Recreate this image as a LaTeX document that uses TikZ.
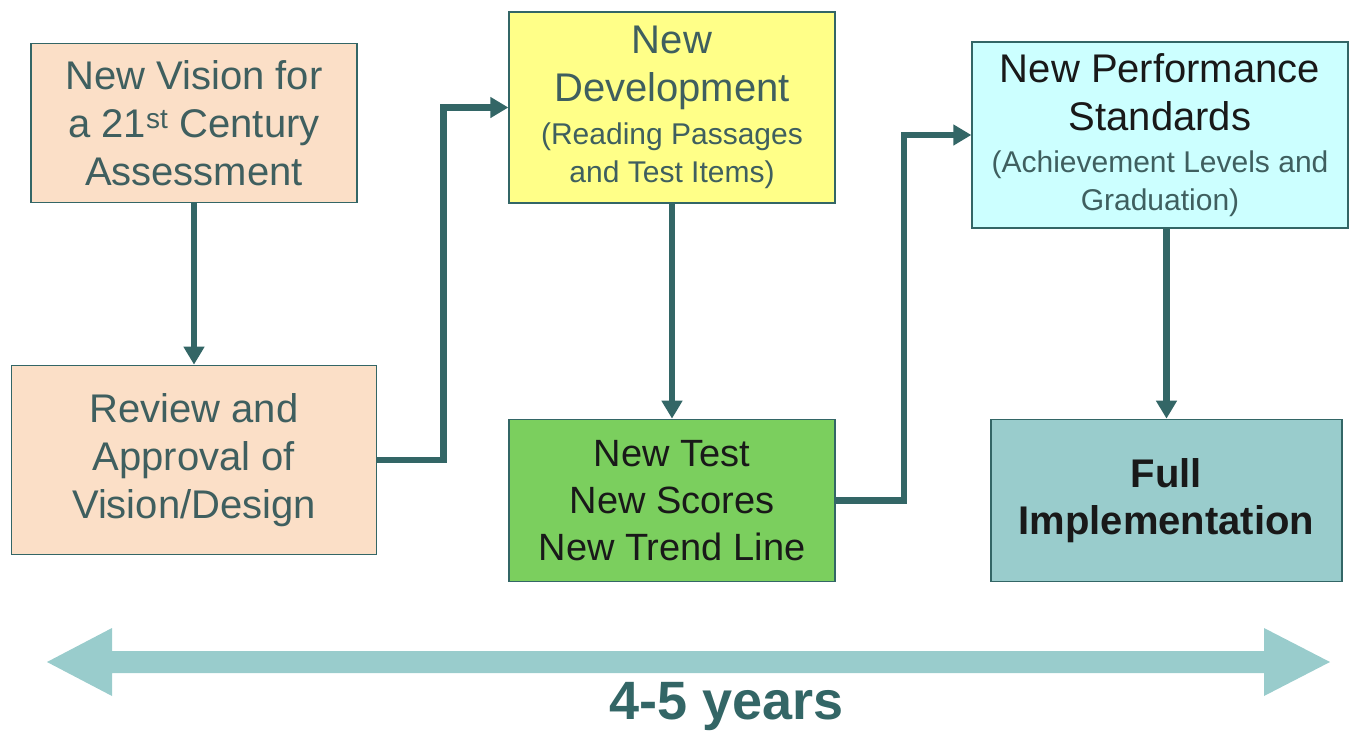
\documentclass[tikz,border=0pt]{standalone}
\usepackage{fontspec}
\setmainfont{Liberation Sans}
\usetikzlibrary{positioning, arrows.meta}

\definecolor{peach}{HTML}{FBDFC7}
\definecolor{lemon}{HTML}{FFFF88}
\definecolor{leaf}{HTML}{7BCF5E}
\definecolor{sky}{HTML}{CCFFFF}
\definecolor{sea}{HTML}{99CCCC}
\definecolor{ink}{HTML}{336666}
\definecolor{slate}{HTML}{3F5F5F}

\newcommand{\subtxt}{\fontsize{30}{36}\selectfont}

\tikzset{
	box/.style={draw=ink, line width=1.3pt, rectangle, align=center,
		inner sep=0pt, font=\fontsize{40}{48}\selectfont},
	link/.style={draw=ink, line width=6.5pt,
		-{Triangle[length=18pt, width=20pt]}},
}

\begin{document}
\begin{tikzpicture}[x=1pt, y=-1pt]
	\useasboundingbox (0,0) rectangle (1350,731);

	\node[box, fill=peach, text=slate, minimum width=326pt, minimum height=159pt] (vision) at (194,123)
		{New Vision for\\a 21\textsuperscript{st} Century\\Assessment};
	\node[box, fill=peach, text=slate, minimum width=365pt, minimum height=189pt, below=161.5pt of vision] (review)
		{Review and\\Approval of\\Vision/Design};
	\node[box, fill=lemon, text=slate, minimum width=326pt, minimum height=191pt] (devel) at (672,107.5)
		{New\\Development\\[-5pt]\subtxt(Reading Passages\\[-10pt]\subtxt and Test Items)};
	\node[box, fill=leaf, text=black!90, minimum width=326pt, minimum height=162pt, below=215pt of devel,
		font=\fontsize{38}{47}\selectfont] (test)
		{New Test\\New Scores\\New Trend Line};
	\node[box, fill=sky, text=black!90, minimum width=376pt, minimum height=186pt] (perf) at (1160,135)
		{New Performance\\Standards\\[-6pt]\subtxt\color{slate}(Achievement Levels and\\[-10pt]\subtxt\color{slate}Graduation)};
	\node[box, fill=sea, text=black!90, minimum width=351pt, minimum height=162pt, below=190pt of perf, xshift=6.5pt,
		font=\fontsize{40}{47}\selectfont\bfseries] (full)
		{Full\\Implementation};

	\draw[link] (vision) -- (review);
	\draw[link] (review.east) -- ++(66.5,0) |- (devel.west);
	\draw[link] (devel) -- (test);
	\draw[link] (test.east) -- ++(68.5,0) |- (perf.west);
	\draw[link] (perf.south -| full.north) -- (full.north);

	% time span
	\fill[sea] (47,662) -- (112,628) -- (112,651) -- (1264,651) -- (1264,628) -- (1330,662)
		-- (1264,696) -- (1264,673) -- (112,673) -- (112,696) -- cycle;
	\node[text=ink, font=\fontsize{54}{60}\selectfont\bfseries] (span) at (727,707) {4-5 years};
\end{tikzpicture}
\end{document}
